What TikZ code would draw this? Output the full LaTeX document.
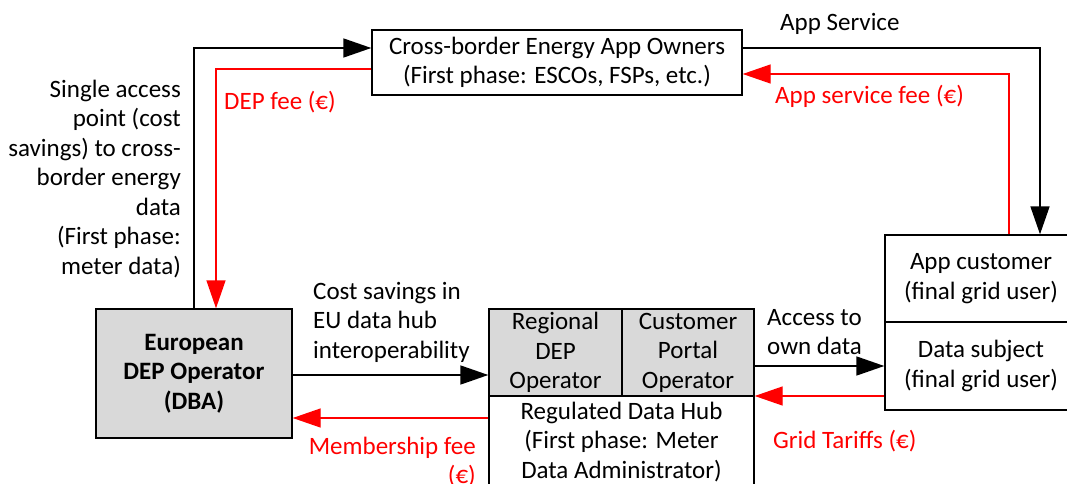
\documentclass[tikz,border=0pt]{standalone}
\usepackage{fontspec}
\setmainfont{Carlito}
\usetikzlibrary{arrows.meta}
\definecolor{boxgray}{RGB}{217,217,217}
\definecolor{flowred}{RGB}{255,0,0}
\begin{document}
\begin{tikzpicture}[x=1pt,y=-1pt,
  every node/.style={font=\fontsize{25}{29.5}\selectfont},
  box/.style={draw, line width=1.4pt, inner sep=0pt, align=center},
  shaded/.style={box, fill=boxgray},
  flow/.style={line width=1.7pt, -{Triangle[length=28pt,width=19pt]}},
  fee/.style={flow, line width=1.4pt, color=flowred},
  lbl/.style={inner sep=0pt},
  feelbl/.style={lbl, text=flowred}]
\useasboundingbox (0,0) rectangle (1067,484);

% actors
\node[box, minimum width=370pt, minimum height=65pt] (apps) at (557,62.5)
  {Cross-border Energy App Owners\\(First phase: ESCOs, FSPs, etc.)};
\node[shaded, minimum width=196pt, minimum height=129pt, font=\fontsize{25}{29.5}\selectfont\bfseries] (dba) at (194,373.5)
  {European\\DEP Operator\\(DBA)};
\node[shaded, minimum width=133pt, minimum height=87pt] (reg) at (555.5,352.5)
  {Regional\\DEP\\Operator};
\node[shaded, minimum width=132pt, minimum height=87pt] (cpo) at (688,352.5)
  {Customer\\Portal\\Operator};
\node[box, minimum width=265pt, minimum height=92pt] (hub) at (621.5,442)
  {Regulated Data Hub\\(First phase: Meter\\Data Administrator)};
\node[box, minimum width=192pt, minimum height=87pt] (appc) at (981,278.5)
  {App customer\\(final grid user)};
\node[box, minimum width=192pt, minimum height=88pt] (subj) at (981,366)
  {Data subject\\(final grid user)};

% helper heights for horizontal flows
\coordinate (memb) at (0,418);
\coordinate (acc) at (0,366);
\coordinate (grid) at (0,396);

% service and data flows
\draw[flow] (dba.north) |- ([yshift=14.5pt]apps.west);
\draw[flow] ([yshift=14.5pt]apps.east) -| ([xshift=59pt]appc.north);
\draw[flow] ([yshift=-1.5pt]dba.east) -- ([yshift=-1.5pt]dba.east -| reg.west);
\draw[flow] (cpo.east |- acc) -- (subj.west |- acc);

% payment flows
\draw[fee] ([yshift=-6.5pt]apps.west) -| ([xshift=22pt]dba.north);
\draw[fee] ([xshift=28pt]appc.north) |- ([yshift=-11.5pt]apps.east);
\draw[fee] (hub.west |- memb) -- (dba.east |- memb);
\draw[fee] (subj.west |- grid) -- (cpo.east |- grid);

% labels
\node[lbl, anchor=east, align=right] (lsingle) at (181,179)
  {Single access\\point (cost\\savings) to cross-\\border energy\\data\\(First phase:\\meter data)};
\node[feelbl, anchor=west] (ldep) at (224,102) {DEP fee (€)};
\node[lbl, anchor=west] (lapp) at (780,24) {App Service};
\node[feelbl, anchor=west] (lappfee) at (775,96) {App service fee (€)};
\node[lbl, anchor=west, align=left] (lcost) at (313,322)
  {Cost savings in\\EU data hub\\interoperability};
\node[feelbl, anchor=east, align=right] (lmemb) at (476,462)
  {Membership fee\\(€)};
\node[lbl, anchor=west, align=left] (lacc) at (767,332)
  {Access to\\own data};
\node[feelbl, anchor=west] (lgrid) at (773,441) {Grid Tariffs (€)};
\end{tikzpicture}
\end{document}
